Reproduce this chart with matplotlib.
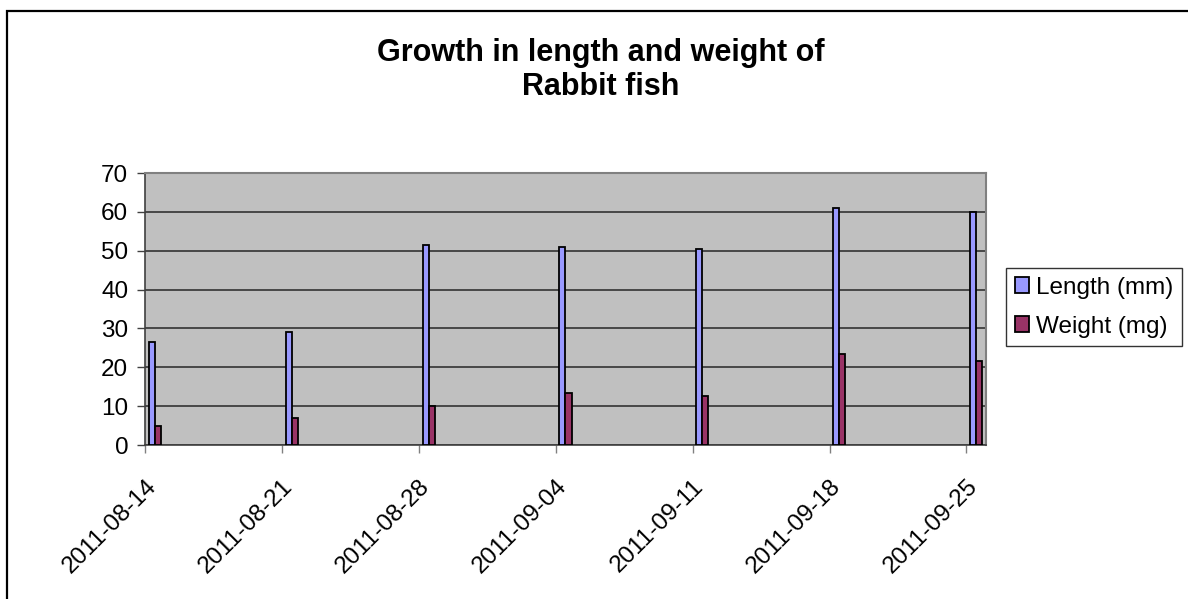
import matplotlib
matplotlib.use("Agg")
import matplotlib.pyplot as plt
import matplotlib.dates as mdates
from matplotlib.patches import Rectangle
import numpy as np
import datetime as dt

dates = ["2011-08-14", "2011-08-21", "2011-08-28", "2011-09-04",
         "2011-09-11", "2011-09-18", "2011-09-25"]
length_mm = [26.5, 29, 51.5, 51, 50.5, 61, 60]
weight_mg = [5, 7, 10, 13.5, 12.5, 23.5, 21.5]
yticks = [0, 10, 20, 30, 40, 50, 60, 70]
title = "Growth in length and weight of\nRabbit fish"

plt.rcParams['font.family'] = ['Liberation Sans', 'DejaVu Sans']

fig = plt.figure(figsize=(11.88, 5.99), dpi=100)
W, H = 1188, 599

# outer chart border
fig.patches.append(Rectangle((7 / W, -0.1), 1.2, (599 - 11) / H + 0.1,
                             transform=fig.transFigure, fill=False,
                             edgecolor='black', linewidth=1.6, zorder=0))

ax = fig.add_axes([145 / W, (599 - 445) / H, (986 - 145) / W, 272 / H])
ax.set_facecolor('#C0C0C0')

d = mdates.date2num([dt.datetime.strptime(s, "%Y-%m-%d") for s in dates])
bw = 0.31
ax.bar(d + 0.5 - bw / 2, length_mm, width=bw, color='#9999FF',
       edgecolor='black', linewidth=1.3, label='Length (mm)', zorder=3)
ax.bar(d + 0.5 + bw / 2, weight_mg, width=bw, color='#993366',
       edgecolor='black', linewidth=1.3, label='Weight (mg)', zorder=3)

ax.set_xlim(d[0], d[-1] + 1)
ax.set_ylim(0, 70)
ax.set_yticks(yticks)
ax.set_xticks(d)
ax.set_xticklabels(dates, rotation=45, ha='right', va='top',
                   rotation_mode='anchor')
ax.tick_params(axis='both', labelsize=17.5, colors='black')
ax.tick_params(axis='y', direction='out', length=6, width=1, color='#404040', pad=6)
ax.tick_params(axis='x', direction='out', length=6, width=1, color='#808080', pad=16)

ax.yaxis.grid(True, color='#333333', linewidth=1.2, zorder=1)
ax.set_axisbelow(True)
for s in ['top', 'right']:
    ax.spines[s].set_color('#808080')
    ax.spines[s].set_linewidth(1.5)
for s in ['left', 'bottom']:
    ax.spines[s].set_color('#404040')
    ax.spines[s].set_linewidth(1.2)

fig.text(601 / W, 1 - 70 / H, title, ha='center', va='center',
         fontsize=22, fontweight='bold', linespacing=1.15)

leg = fig.legend(loc='upper left', bbox_to_anchor=(1006 / W, 1 - 268 / H),
                 bbox_transform=fig.transFigure, borderaxespad=0,
                 fontsize=17.5, frameon=True, fancybox=False,
                 edgecolor='black', handlelength=0.6, handleheight=0.6,
                 handletextpad=0.3, borderpad=0.35, labelspacing=0.7)
leg.get_frame().set_linewidth(1.0)

fig.savefig("out.png", dpi=100, facecolor='white')
